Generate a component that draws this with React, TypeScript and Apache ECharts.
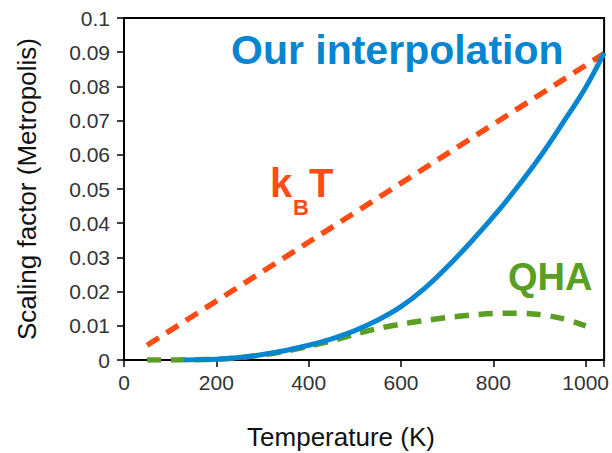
import React, { useEffect, useRef } from "react";
import * as echarts from "echarts";

const blueT = [130, 200, 250, 300, 350, 400, 450, 500, 550, 600, 650, 700, 750, 800, 850, 900, 950, 1000, 1040];
const blueV = [0, 0.0002, 0.0007, 0.0016, 0.0028, 0.0043, 0.0062, 0.0086, 0.0117, 0.0156, 0.0208, 0.0272, 0.0343, 0.0419, 0.0502, 0.0592, 0.0692, 0.0797, 0.0898];

const qhaT = [50, 100, 150, 200, 250, 300, 350, 400, 450, 500, 550, 600, 650, 700, 750, 800, 850, 900, 950, 1000];
const qhaV = [0, 0, 0.0001, 0.0002, 0.0007, 0.0015, 0.0026, 0.004, 0.0056, 0.0075, 0.0092, 0.0105, 0.0115, 0.0124, 0.0131, 0.0136, 0.0137, 0.0133, 0.0121, 0.01];

const kbtT = [50, 1040];
const kbtV = [0.0043, 0.0896];

const xTicks = [0, 200, 400, 600, 800, 1000];

const BLUE = "#0785d1";
const RED = "#ff4b14";
const GREEN = "#5a9e23";
const FONT = "Liberation Sans";

const zip = (a: number[], b: number[]) => a.map((v, i) => [v, b[i]]);

export default function App() {
  const ref = useRef<HTMLDivElement>(null);
  useEffect(() => {
    document.body.style.margin = "0";
    if (!ref.current) return;
    const chart = echarts.init(ref.current, null, { renderer: "svg" });
    chart.setOption({
      animation: false,
      grid: {
        left: 124,
        right: 2,
        top: 18,
        bottom: 93,
        show: true,
        borderColor: "#000",
        borderWidth: 2,
      },
      xAxis: {
        type: "value",
        min: 0,
        max: 1040,
        interval: 200,
        axisLine: { lineStyle: { color: "#000", width: 2 } },
        axisTick: { length: 7, lineStyle: { color: "#000", width: 1.5 } },
        axisLabel: {
          fontFamily: FONT,
          fontSize: 21,
          color: "#333",
          margin: 12,
          formatter: (v: number) => (xTicks.includes(v) ? String(v) : ""),
        },
        splitLine: { show: false },
      },
      yAxis: {
        type: "value",
        min: 0,
        max: 0.1,
        interval: 0.01,
        name: "Scaling factor (Metropolis)",
        nameLocation: "middle",
        nameGap: 84,
        nameTextStyle: { fontFamily: FONT, fontSize: 26, color: "#111" },
        axisLine: { lineStyle: { color: "#000", width: 2 } },
        axisTick: { length: 7, lineStyle: { color: "#000", width: 1.5 } },
        axisLabel: {
          fontFamily: FONT,
          fontSize: 21,
          color: "#333",
          margin: 14,
          formatter: (v: number) => String(Number(v.toFixed(3))),
        },
        splitLine: { show: false },
      },
      series: [
        {
          type: "line",
          data: zip(kbtT, kbtV),
          showSymbol: false,
          lineStyle: { color: RED, width: 5.5, type: [14, 9] },
          z: 2,
        },
        {
          type: "line",
          data: zip(qhaT, qhaV),
          showSymbol: false,
          smooth: 0.3,
          lineStyle: { color: GREEN, width: 5.5, type: [14, 10] },
          z: 3,
        },
        {
          type: "line",
          data: zip(blueT, blueV),
          showSymbol: false,
          smooth: 0.4,
          lineStyle: { color: BLUE, width: 5 },
          z: 4,
        },
      ],
      graphic: [
        {
          type: "text",
          x: 341,
          y: 437,
          style: {
            text: "Temperature (K)",
            fill: "#111",
            font: `26px "${FONT}"`,
            textAlign: "center",
            textVerticalAlign: "middle",
          },
        },
        {
          type: "text",
          left: 231,
          top: 29,
          style: { text: "Our interpolation", fill: BLUE, font: `bold 41px "${FONT}"` },
        },
        {
          type: "text",
          left: 508,
          top: 258,
          style: { text: "QHA", fill: GREEN, font: `bold 38px "${FONT}"` },
        },
        {
          type: "text",
          left: 270,
          top: 163,
          style: { text: "k", fill: RED, font: `bold 40px "${FONT}"` },
        },
        {
          type: "text",
          left: 293,
          top: 196,
          style: { text: "B", fill: RED, font: `bold 22px "${FONT}"` },
        },
        {
          type: "text",
          left: 309,
          top: 163,
          style: { text: "T", fill: RED, font: `bold 40px "${FONT}"` },
        },
      ],
    });
    return () => chart.dispose();
  }, []);
  return <div ref={ref} style={{ width: 612, height: 453 }} />;
}
